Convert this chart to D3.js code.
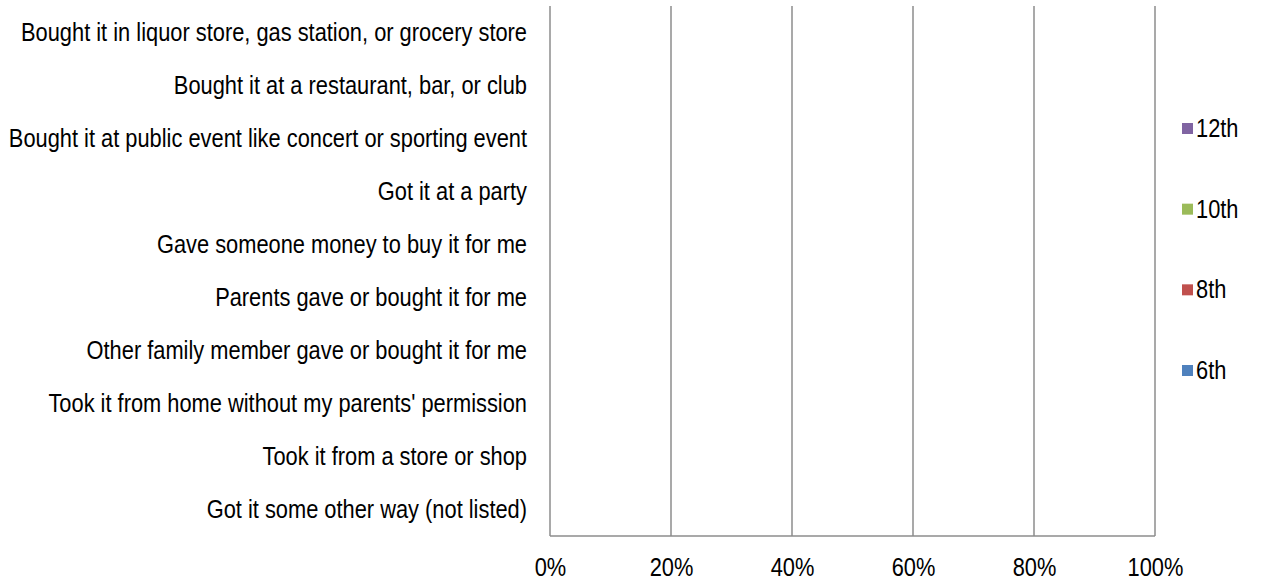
<!doctype html>
<html lang="en">
<head>
  <meta charset="utf-8">
  <script src="https://cdn.jsdelivr.net/npm/d3@7"></script>
  <style>
    body { margin: 0; background: #fff; }
    text { font-family: "Liberation Sans", Arial, sans-serif; fill: #000; }
  </style>
</head>
<body>
  <div id="chart"></div>
  <script>
    // Sources of alcohol, top to bottom
    var sources = [
      "Bought it in liquor store, gas station, or grocery store",
      "Bought it at a restaurant, bar, or club",
      "Bought it at public event like concert or sporting event",
      "Got it at a party",
      "Gave someone money to buy it for me",
      "Parents gave or bought it for me",
      "Other family member gave or bought it for me",
      "Took it from home without my parents' permission",
      "Took it from a store or shop",
      "Got it some other way (not listed)"
    ];
    var grades = ["12th", "10th", "8th", "6th"];
    var gradeColors = ["#8064A2", "#9BBB59", "#C0504D", "#4F81BD"];
    // share of students per source, one list per grade (no responses recorded)
    var pct12 = [0, 0, 0, 0, 0, 0, 0, 0, 0, 0];
    var pct10 = [0, 0, 0, 0, 0, 0, 0, 0, 0, 0];
    var pct8  = [0, 0, 0, 0, 0, 0, 0, 0, 0, 0];
    var pct6  = [0, 0, 0, 0, 0, 0, 0, 0, 0, 0];
    var xTicks = [0, 0.2, 0.4, 0.6, 0.8, 1];

    var width = 1283, height = 582;
    var margin = {top: 6, right: 128, bottom: 46, left: 550};
    var w = width - margin.left - margin.right;
    var h = height - margin.top - margin.bottom;
    var fontSize = 26;
    var squeeze = 0.84; // narrow face look

    var svg = d3.select("#chart").append("svg")
      .attr("width", width)
      .attr("height", height);
    var g = svg.append("g")
      .attr("transform", "translate(" + margin.left + "," + margin.top + ")");

    var x = d3.scaleLinear().domain([0, 1]).range([0, w]);
    var y = d3.scaleBand().domain(sources).range([0, h]);
    var series = [pct6, pct8, pct10, pct12];
    var seriesColors = ["#4F81BD", "#C0504D", "#9BBB59", "#8064A2"];
    var inner = d3.scaleBand().domain(d3.range(series.length)).range([0, y.bandwidth()]).padding(0.1);

    // gridlines
    g.selectAll("line.grid").data(xTicks).enter()
      .append("line")
      .attr("class", "grid")
      .attr("x1", d => x(d)).attr("x2", d => x(d))
      .attr("y1", 0).attr("y2", h)
      .attr("stroke", "#8c8c8c")
      .attr("stroke-width", 1.5);

    // bars
    series.forEach(function(vals, si) {
      g.append("g").selectAll("rect").data(vals).enter()
        .append("rect")
        .attr("x", 0)
        .attr("y", (d, i) => y(sources[i]) + inner(si))
        .attr("width", d => x(d))
        .attr("height", inner.bandwidth())
        .attr("fill", seriesColors[si]);
    });

    // bottom axis line
    g.append("line")
      .attr("x1", 0).attr("x2", w)
      .attr("y1", h).attr("y2", h)
      .attr("stroke", "#8c8c8c")
      .attr("stroke-width", 1.5);

    var xAxis = g.append("g")
      .attr("transform", "translate(0," + h + ")")
      .call(d3.axisBottom(x).tickValues(xTicks).tickFormat(d3.format(".0%")).tickSize(0).tickPadding(22));
    xAxis.select(".domain").remove();
    xAxis.selectAll("text")
      .style("font-size", fontSize + "px").attr("fill", "#000")
      .attr("transform", "scale(" + squeeze + ",1)");

    var yAxis = g.append("g")
      .call(d3.axisLeft(y).tickSize(0));
    yAxis.select(".domain").remove();
    yAxis.selectAll("text")
      .style("font-size", fontSize + "px").attr("fill", "#000")
      .attr("x", -23 / squeeze)
      .attr("transform", "scale(" + squeeze + ",1)");

    // legend
    var legY = d3.scalePoint().domain(grades).range([128, 370]);
    var legend = svg.append("g").attr("transform", "translate(1182,0)");
    var items = legend.selectAll("g").data(grades).enter().append("g")
      .attr("transform", d => "translate(0," + legY(d) + ")");
    items.append("rect")
      .attr("x", 0).attr("y", -5)
      .attr("width", 11).attr("height", 11)
      .attr("fill", (d, i) => gradeColors[i]);
    items.append("text")
      .attr("x", 14 / squeeze).attr("dy", "0.35em")
      .attr("transform", "scale(" + squeeze + ",1)")
      .style("font-size", fontSize + "px")
      .text(d => d);
  </script>
</body>
</html>
